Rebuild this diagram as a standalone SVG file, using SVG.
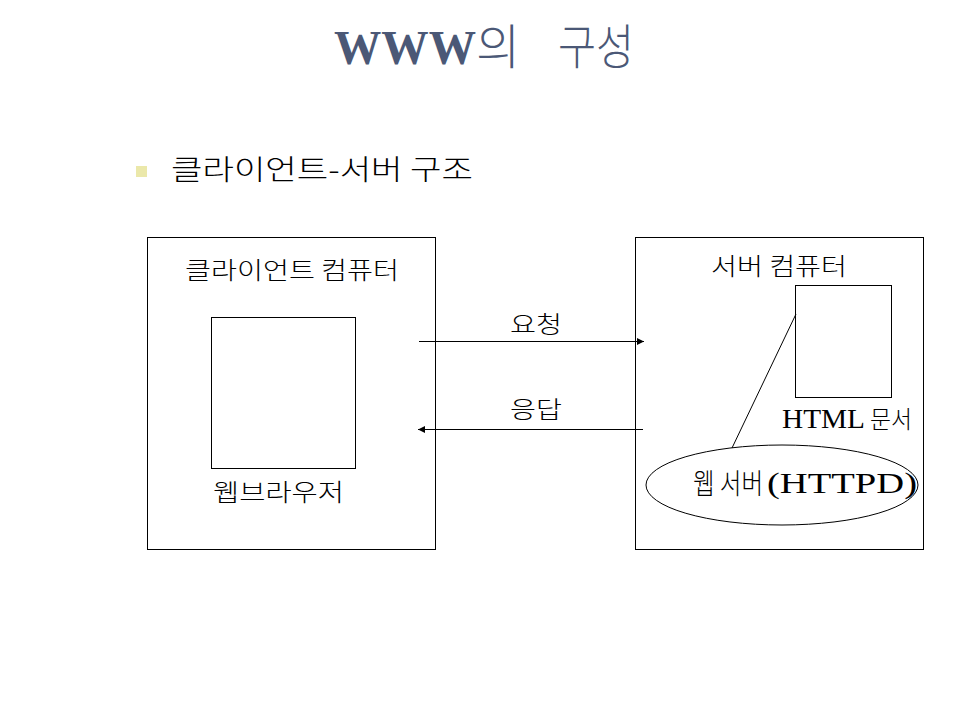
<svg xmlns="http://www.w3.org/2000/svg" width="960" height="720" viewBox="0 0 960 720">
<defs>
<style>
.k{font-family:"Noto Sans CJK KR","Noto Sans",sans-serif;font-weight:300;fill:#000}
.s{font-family:"Liberation Serif","Noto Sans CJK KR",serif;fill:#000}
.box{fill:#fff;stroke:#000;stroke-width:1}
.ln{stroke:#000;stroke-width:1;fill:none}
</style>
<marker id="ah" viewBox="0 0 10 10" refX="10" refY="5" markerWidth="9" markerHeight="7" markerUnits="userSpaceOnUse" orient="auto">
<path d="M0,0 L10,5 L0,10 z" fill="#000"/>
</marker>
</defs>
<rect width="960" height="720" fill="#fff"/>
<g id="title" fill="#4b5876">
<text x="334" y="64" font-size="48" font-family="Liberation Serif,serif" font-weight="bold" textLength="142" lengthAdjust="spacingAndGlyphs">WWW</text>
<text x="476" y="64" font-size="48" font-family="Noto Sans CJK KR,sans-serif" font-weight="300">의</text>
<text x="558" y="64" font-size="48" font-family="Noto Sans CJK KR,sans-serif" font-weight="300" textLength="76" lengthAdjust="spacingAndGlyphs">구성</text>
</g>
<g id="bullet">
<rect x="136" y="166" width="11" height="11" fill="#ebe8aa"/>
<text class="k" x="171" y="180" font-size="28" textLength="302" lengthAdjust="spacingAndGlyphs">클라이언트-서버 구조</text>
</g>
<g id="client">
<rect class="box" x="147.5" y="237.5" width="288" height="312"/>
<text class="k" x="185" y="279" font-size="24" textLength="214" lengthAdjust="spacingAndGlyphs">클라이언트 컴퓨터</text>
</g>
<g id="browser">
<rect class="box" x="211.5" y="317.5" width="144" height="151"/>
<text class="k" x="213" y="501" font-size="24" textLength="131" lengthAdjust="spacingAndGlyphs">웹브라우저</text>
</g>
<g id="server">
<rect class="box" x="635.5" y="237.5" width="288" height="312"/>
<text class="k" x="711" y="275" font-size="24" textLength="136" lengthAdjust="spacingAndGlyphs">서버 컴퓨터</text>
</g>
<g id="html">
<rect class="box" x="795.5" y="285.5" width="96" height="112"/>
<text class="s" x="782" y="428" font-size="27" textLength="83" lengthAdjust="spacingAndGlyphs">HTML</text>
<text class="k" x="870" y="428" font-size="24" textLength="42" lengthAdjust="spacingAndGlyphs">문서</text>
</g>
<g id="webserver">
<ellipse class="box" cx="782" cy="485" rx="136" ry="40"/>
<text class="k" x="693" y="494" font-size="28" textLength="70" lengthAdjust="spacingAndGlyphs">웹 서버</text>
<text class="s" x="767" y="493" font-size="29" textLength="150" lengthAdjust="spacingAndGlyphs">(HTTPD)</text>
</g>
<g id="connectors">
<line class="ln" x1="419" y1="341.5" x2="644" y2="341.5" marker-end="url(#ah)"/>
<line class="ln" x1="643" y1="429.5" x2="418" y2="429.5" marker-end="url(#ah)"/>
<line class="ln" x1="796" y1="314" x2="732" y2="448"/>
<text class="k" x="510" y="333" font-size="24" textLength="52" lengthAdjust="spacingAndGlyphs">요청</text>
<text class="k" x="510" y="418" font-size="24" textLength="52" lengthAdjust="spacingAndGlyphs">응답</text>
</g>
</svg>
